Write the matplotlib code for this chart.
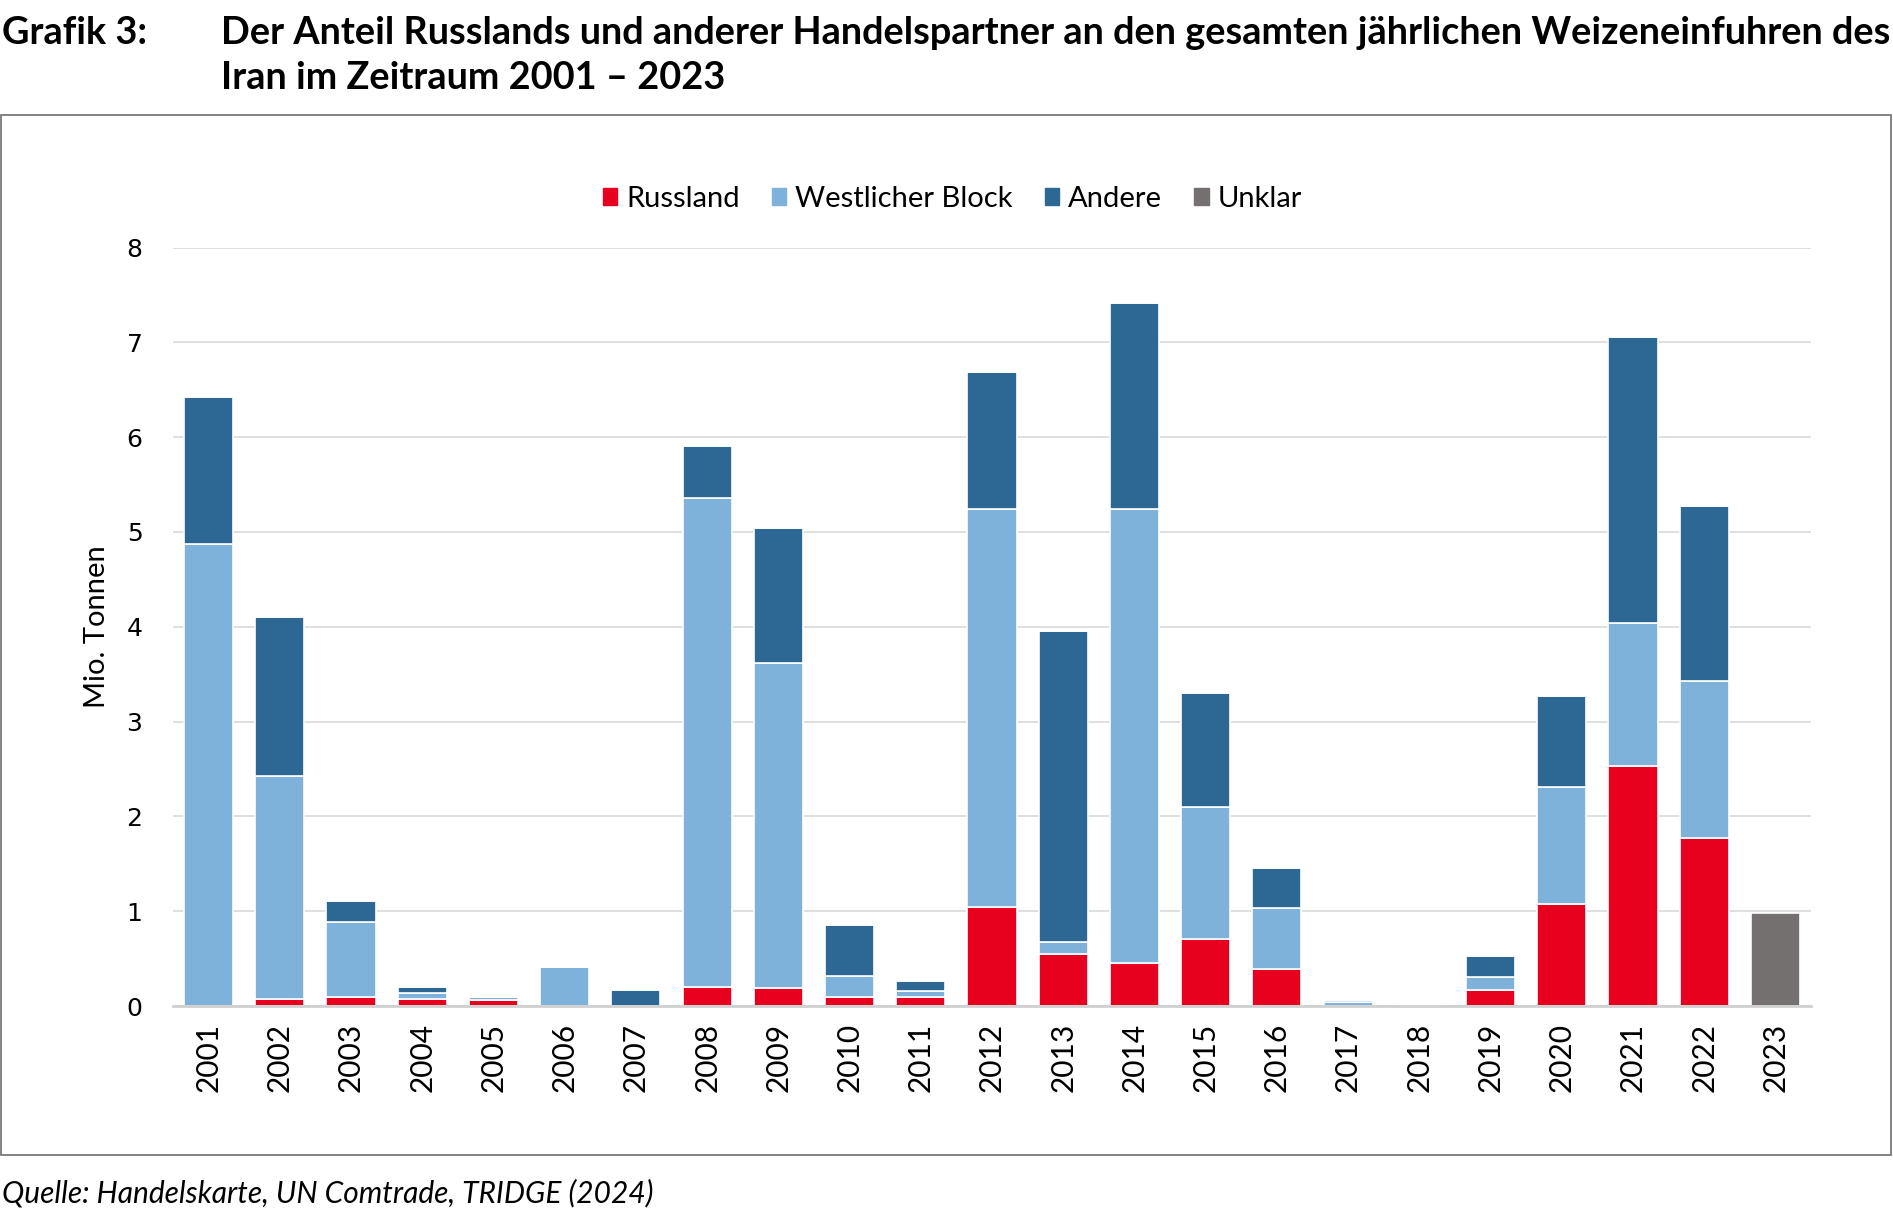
import matplotlib.pyplot as plt
import matplotlib.patches as mpatches
import numpy as np

years = [str(y) for y in range(2001, 2024)]
russland = [0, 0.07, 0.09, 0.07, 0.06, 0, 0, 0.20, 0.19, 0.10, 0.09, 1.04, 0.55,
            0.45, 0.71, 0.39, 0, 0, 0.17, 1.08, 2.53, 1.77, 0]
westlich = [4.87, 2.36, 0.80, 0.07, 0.03, 0.41, 0, 5.16, 3.43, 0.22, 0.07, 4.20, 0.13,
            4.79, 1.39, 0.64, 0.04, 0, 0.14, 1.23, 1.51, 1.66, 0]
andere = [1.55, 1.67, 0.22, 0.06, 0.01, 0, 0.17, 0.55, 1.42, 0.53, 0.10, 1.45, 3.27,
          2.17, 1.20, 0.43, 0.02, 0, 0.22, 0.96, 3.02, 1.84, 0]
unklar = [0] * 22 + [0.98]

series = [("Russland", russland, "#E8001F"),
          ("Westlicher Block", westlich, "#7FB2DA"),
          ("Andere", andere, "#2D6895"),
          ("Unklar", unklar, "#757070")]

W, H = 1893, 1216
fig = plt.figure(figsize=(W / 100, H / 100), dpi=100)

# outer frame
fig.patches.append(mpatches.Rectangle((0.0005, (H - 1155) / H), 0.9985, 1040 / H,
                                      transform=fig.transFigure, fill=False,
                                      edgecolor="#6e6e6e", linewidth=1.2))

ax = fig.add_axes([173 / W, 210 / H, 1638 / W, 758.5 / H])
x = np.arange(len(years))
bottom = np.zeros(len(years))
handles = []
for name, vals, col in series:
    vals = np.array(vals)
    ax.bar(x, vals, 0.69, bottom=bottom, color=col, edgecolor="white",
           linewidth=1.2, zorder=3)
    bottom += vals
    handles.append(mpatches.Patch(color=col, label=name))

ax.set_xlim(-0.5, len(years) - 0.5)
ax.set_ylim(0, 8)
ax.set_yticks(range(0, 9))
ax.set_xticks(x)
ax.set_xticklabels(years, rotation=90, fontsize=21.5, family="Lato")
ax.tick_params(axis="y", labelsize=18, length=0, pad=22)
ax.tick_params(axis="x", length=0, pad=12)
for lab in ax.get_yticklabels():
    lab.set_family("DejaVu Sans")
ax.grid(axis="y", color="#d9d9d9", linewidth=1.2, zorder=0)
for s in ["top", "right", "left"]:
    ax.spines[s].set_visible(False)
ax.spines["bottom"].set_color("#d0d0d0")
ax.spines["bottom"].set_linewidth(2)
ax.spines["bottom"].set_zorder(4)
ax.set_ylabel("Mio. Tonnen", fontsize=21, family="Lato", labelpad=12)

fig.legend(handles=handles, loc="center", bbox_to_anchor=(0.503, 1 - 199 / H),
           ncol=4, frameon=False, prop={"family": "Lato", "size": 21},
           handlelength=0.5, handleheight=0.5, handletextpad=0.3,
           columnspacing=1.1)

fig.text(2 / W, 1 - 33 / H, "Grafik 3:", fontsize=27.3, fontweight="bold",
         family="Lato", va="center")
fig.text(221 / W, 1 - 33 / H,
         "Der Anteil Russlands und anderer Handelspartner an den gesamten "
         "jährlichen Weizeneinfuhren des",
         fontsize=27.3, fontweight="bold", family="Lato", va="center")
fig.text(221 / W, 1 - 78 / H, "Iran im Zeitraum 2001 – 2023", fontsize=27.3,
         fontweight="bold", family="Lato", va="center")
fig.text(2 / W, 1 - 1193 / H, "Quelle: Handelskarte, UN Comtrade, TRIDGE (2024)",
         fontsize=21.5, style="italic", family="Lato", va="center")

fig.savefig("out.png", dpi=100)
